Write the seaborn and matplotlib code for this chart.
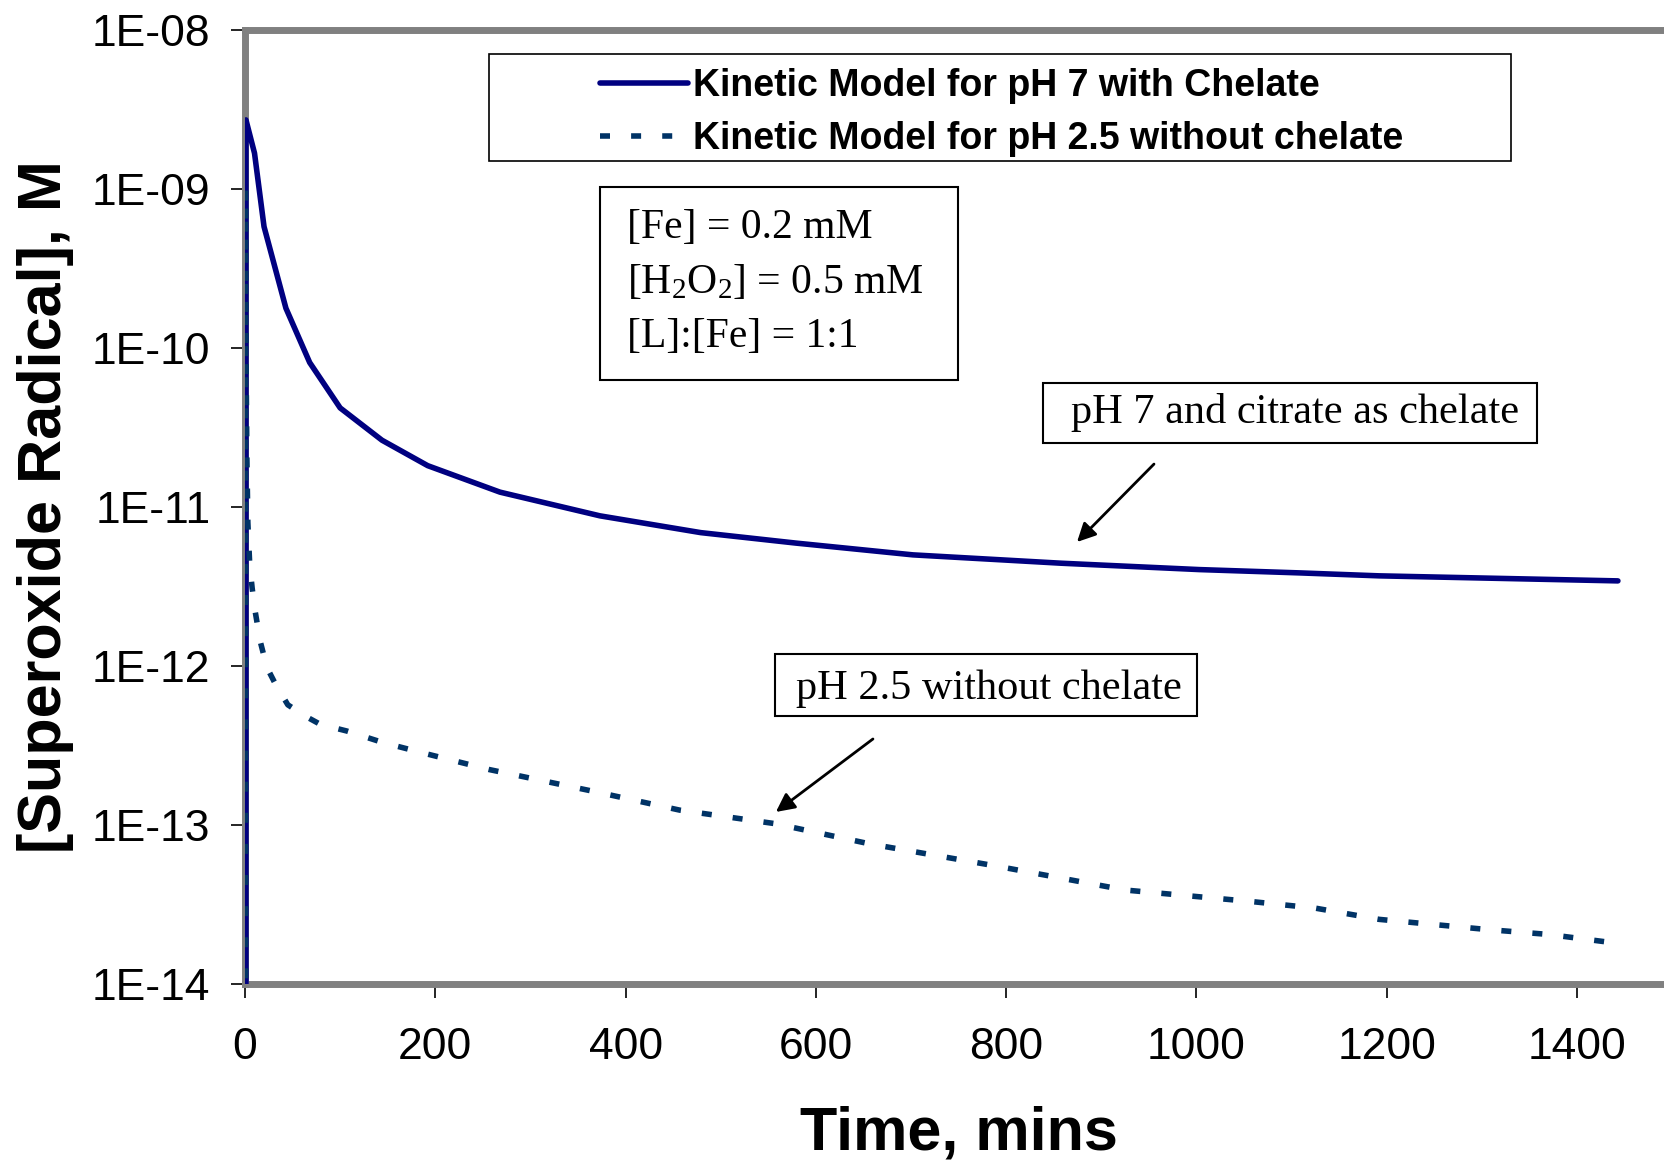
import numpy as np
import pandas as pd
import matplotlib
matplotlib.use("Agg")
import matplotlib.pyplot as plt
from matplotlib.patches import Rectangle
from matplotlib.ticker import FixedLocator, NullLocator
import seaborn as sns

# ---------------- data ----------------
t_ph7 = [0, 1, 10, 20, 43, 68, 100, 144, 192, 268, 373, 479, 579, 702, 858, 1003, 1109, 1192, 1443]
c_ph7 = [0.0, 2.72e-9, 1.68e-9, 5.8e-10, 1.78e-10, 8.1e-11, 4.2e-11, 2.63e-11, 1.82e-11, 1.24e-11,
         8.8e-12, 6.9e-12, 5.93e-12, 5.0e-12, 4.43e-12, 4.04e-12, 3.85e-12, 3.69e-12, 3.43e-12]

t_ph25 = [0, 0.5, 1, 2, 3, 5, 7.5, 10.5, 16, 23, 31.5, 45, 63, 79, 107, 145, 191, 257, 368, 457,
          557, 657, 791, 925, 1058, 1125, 1192, 1306, 1370, 1440]
c_ph25 = [0.0, 1.0e-9, 1.0e-10, 2.0e-11, 8.0e-12, 4.3e-12, 3.1e-12, 2.24e-12, 1.43e-12, 9.8e-13,
          7.8e-13, 5.7e-13, 4.85e-13, 4.3e-13, 3.9e-13, 3.3e-13, 2.8e-13, 2.23e-13, 1.62e-13, 1.24e-13,
          1.02e-13, 7.6e-14, 5.5e-14, 3.9e-14, 3.3e-14, 3.0e-14, 2.55e-14, 2.2e-14, 2.05e-14, 1.81e-14]

series_labels = ["Kinetic Model for pH 7 with Chelate", "Kinetic Model for pH 2.5 without chelate"]
y_ticks = [1e-14, 1e-13, 1e-12, 1e-11, 1e-10, 1e-9, 1e-8]
y_tick_labels = ["1E-14", "1E-13", "1E-12", "1E-11", "1E-10", "1E-09", "1E-08"]
x_ticks = [0, 200, 400, 600, 800, 1000, 1200, 1400]
x_tick_labels = ["0", "200", "400", "600", "800", "1000", "1200", "1400"]

param_text = "[Fe] = 0.2 mM\n[H$_2$O$_2$] = 0.5 mM\n[L]:[Fe] = 1:1"
note_ph7 = "pH 7 and citrate as chelate"
note_ph25 = "pH 2.5 without chelate"

df7 = pd.DataFrame({"t": t_ph7, "c": c_ph7})
df25 = pd.DataFrame({"t": t_ph25, "c": c_ph25})

# ---------------- style ----------------
sns.set_theme(style="white")
plt.rcParams["font.family"] = ["Liberation Sans", "DejaVu Sans"]
plt.rcParams["mathtext.fontset"] = "custom"
plt.rcParams["mathtext.rm"] = "Liberation Serif"
plt.rcParams["mathtext.it"] = "Liberation Serif:italic"
for k in ["text.color", "axes.labelcolor", "xtick.color", "ytick.color"]:
    plt.rcParams[k] = "black"

W, H = 1664, 1164
fig = plt.figure(figsize=(W / 100, H / 100), dpi=100)
fig.patch.set_facecolor("white")


def fig_rect(x0, y0, x1, y1, lw=1.5):
    """Frame given in figure pixels (top-left origin)."""
    fig.add_artist(Rectangle((x0 / W, 1 - y1 / H), (x1 - x0) / W, (y1 - y0) / H,
                             transform=fig.transFigure, fill=False, edgecolor="black",
                             linewidth=lw, zorder=5))


x_min, x_max = 0, 1500
ax_left, ax_top, ax_bottom = 245, 30, 984
px_per_unit = (1577 - 245) / 1400.0
ax_w = (x_max - x_min) * px_per_unit
ax = fig.add_axes([ax_left / W, 1 - ax_bottom / H, ax_w / W, (ax_bottom - ax_top) / H])
ax.set_facecolor("white")

sns.lineplot(data=df7, x="t", y="c", ax=ax, color="#000080", linewidth=4.0,
             estimator=None, sort=False, label=series_labels[0], zorder=3)
sns.lineplot(data=df25, x="t", y="c", ax=ax, color="#003366", linewidth=4.0,
             estimator=None, sort=False, label=series_labels[1], zorder=3,
             linestyle=(0, (1.8, 3.8)))

ax.set_yscale("log", nonpositive="clip")
ax.set_ylim(1e-14, 1e-8)
ax.set_xlim(x_min, x_max)

ax.yaxis.set_major_locator(FixedLocator(y_ticks))
ax.yaxis.set_minor_locator(NullLocator())
ax.set_yticklabels(y_tick_labels)
ax.xaxis.set_major_locator(FixedLocator(x_ticks))
ax.set_xticklabels(x_tick_labels)

ax.tick_params(axis="both", which="major", direction="out", length=10, width=1.2,
               color="black", labelcolor="black", labelsize=32, left=True, bottom=True)
ax.tick_params(axis="y", pad=15)
ax.tick_params(axis="x", pad=21)

for side in ["top", "left", "bottom"]:
    ax.spines[side].set_visible(True)
    ax.spines[side].set_color("#808080")
    ax.spines[side].set_linewidth(5)
    ax.spines[side].set_zorder(2)
ax.spines["right"].set_visible(False)
ax.grid(False)

ax.set_xlabel("Time, mins", fontsize=44, fontweight="bold", labelpad=27, color="black")
ax.set_ylabel("[Superoxide Radical], M", fontsize=44, fontweight="bold", labelpad=13, color="black")

# ---------------- legend ----------------
leg = ax.legend(loc="upper left", bbox_to_anchor=(600 / W, 1 - 68 / H),
                bbox_transform=fig.transFigure, frameon=False,
                prop={"family": "Liberation Sans", "weight": "bold", "size": 27},
                handlelength=2.35, handletextpad=0.13, borderpad=0, borderaxespad=0,
                labelspacing=0.46)
for txt in leg.get_texts():
    txt.set_color("black")
fig_rect(489, 54, 1511, 161, lw=1.2)

# ---------------- annotations ----------------
ax.text(401.5, 10 ** -9.585, param_text, family=["Liberation Serif"], fontsize=30,
        ha="left", va="center", linespacing=1.53, color="black")
fig_rect(600, 187, 958, 380)

ax.text(1103.6, 10 ** -10.403, note_ph7, family=["Liberation Serif"], fontsize=30.5,
        ha="center", va="center", color="black")
fig_rect(1043, 383, 1537, 443)
ax.annotate("", xy=(874.5, 10 ** -11.22), xytext=(955.4, 10 ** -10.73),
            arrowprops=dict(arrowstyle="-|>", color="black", lw=2, mutation_scale=28,
                            shrinkA=0, shrinkB=0))

ax.text(782, 10 ** -12.14, note_ph25, family=["Liberation Serif"], fontsize=30.5,
        ha="center", va="center", color="black")
fig_rect(775, 654, 1197, 716)
ax.annotate("", xy=(558, 10 ** -12.918), xytext=(660, 10 ** -12.459),
            arrowprops=dict(arrowstyle="-|>", color="black", lw=2, mutation_scale=28,
                            shrinkA=0, shrinkB=0))

fig.savefig("out.png", dpi=100, facecolor="white")
